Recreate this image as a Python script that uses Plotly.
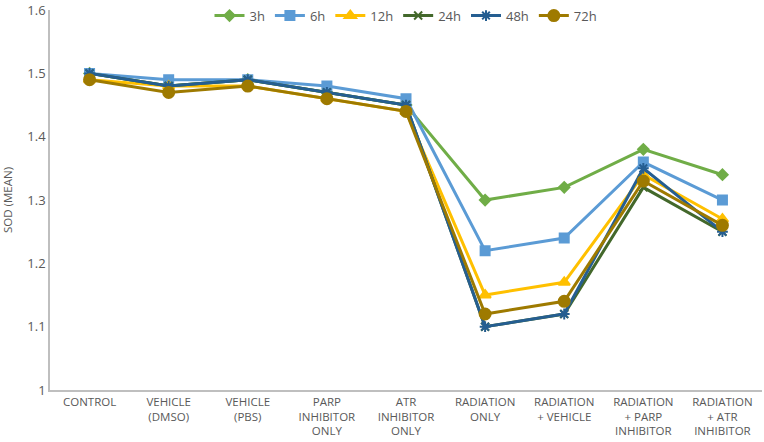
import plotly.graph_objects as go

categories = ["CONTROL", "VEHICLE<br>(DMSO)", "VEHICLE<br>(PBS)", "PARP<br>INHIBITOR<br>ONLY",
              "ATR<br>INHIBITOR<br>ONLY", "RADIATION<br>ONLY", "RADIATION<br>+ VEHICLE",
              "RADIATION<br>+ PARP<br>INHIBITOR", "RADIATION<br>+ ATR<br>INHIBITOR"]
series_names = ["3h", "6h", "12h", "24h", "48h", "72h"]
v3h = [1.50, 1.48, 1.49, 1.47, 1.45, 1.30, 1.32, 1.38, 1.34]
v6h = [1.50, 1.49, 1.49, 1.48, 1.46, 1.22, 1.24, 1.36, 1.30]
v12h = [1.49, 1.48, 1.48, 1.46, 1.44, 1.15, 1.17, 1.34, 1.27]
v24h = [1.50, 1.48, 1.49, 1.47, 1.45, 1.10, 1.12, 1.32, 1.25]
v48h = [1.50, 1.48, 1.49, 1.47, 1.45, 1.10, 1.12, 1.35, 1.25]
v72h = [1.49, 1.47, 1.48, 1.46, 1.44, 1.12, 1.14, 1.33, 1.26]
values = [v3h, v6h, v12h, v24h, v48h, v72h]
y_ticks = [1.0, 1.1, 1.2, 1.3, 1.4, 1.5, 1.6]
y_tick_labels = ["1", "1.1", "1.2", "1.3", "1.4", "1.5", "1.6"]

colors = ["#70AD47", "#5B9BD5", "#FFC000", "#43682B", "#255E91", "#9E7A00"]
symbols = ["diamond", "square", "triangle-up", "x-thin-open", "asterisk-open", "circle"]
sizes = [8, 9, 10, 8, 9, 11]

fig = go.Figure()
for name, vals, c, s, sz in zip(series_names, values, colors, symbols, sizes):
    fig.add_trace(go.Scatter(
        x=list(range(len(categories))), y=vals, name=name, mode="lines+markers",
        line=dict(color=c, width=3),
        marker=dict(symbol=s, size=sz, color=c, line=dict(color=c, width=2)),
    ))

fig.update_layout(
    width=764, height=442,
    margin=dict(l=50, r=2, t=9, b=52),
    plot_bgcolor="white", paper_bgcolor="white",
    font=dict(family="Open Sans, sans-serif", color="#595959", size=12),
    legend=dict(orientation="h", x=0.5, xanchor="center", y=1.022, yanchor="top",
                font=dict(size=13, color="#595959"), bgcolor="rgba(0,0,0,0)",
                itemwidth=30, tracegroupgap=0),
    showlegend=True,
)
fig.update_xaxes(
    tickmode="array", tickvals=list(range(len(categories))), ticktext=categories,
    range=[-0.5, len(categories) - 0.5], showgrid=False, zeroline=False,
    showline=True, linecolor="#BFBFBF", linewidth=1.5, ticks="",
    tickfont=dict(size=11.5, color="#595959"), tickangle=0,
)
fig.update_yaxes(
    range=[1.0, 1.6001], tickmode="array", tickvals=y_ticks, ticktext=y_tick_labels,
    showgrid=False, zeroline=False, ticklabeloverflow="allow",
    showline=True, linecolor="#BFBFBF", linewidth=1.5, ticks="",
    tickfont=dict(size=13, color="#595959"),
    title=dict(text="SOD (MEAN)", font=dict(size=11.5, color="#595959"), standoff=12),
)
fig.write_html("out.html")
